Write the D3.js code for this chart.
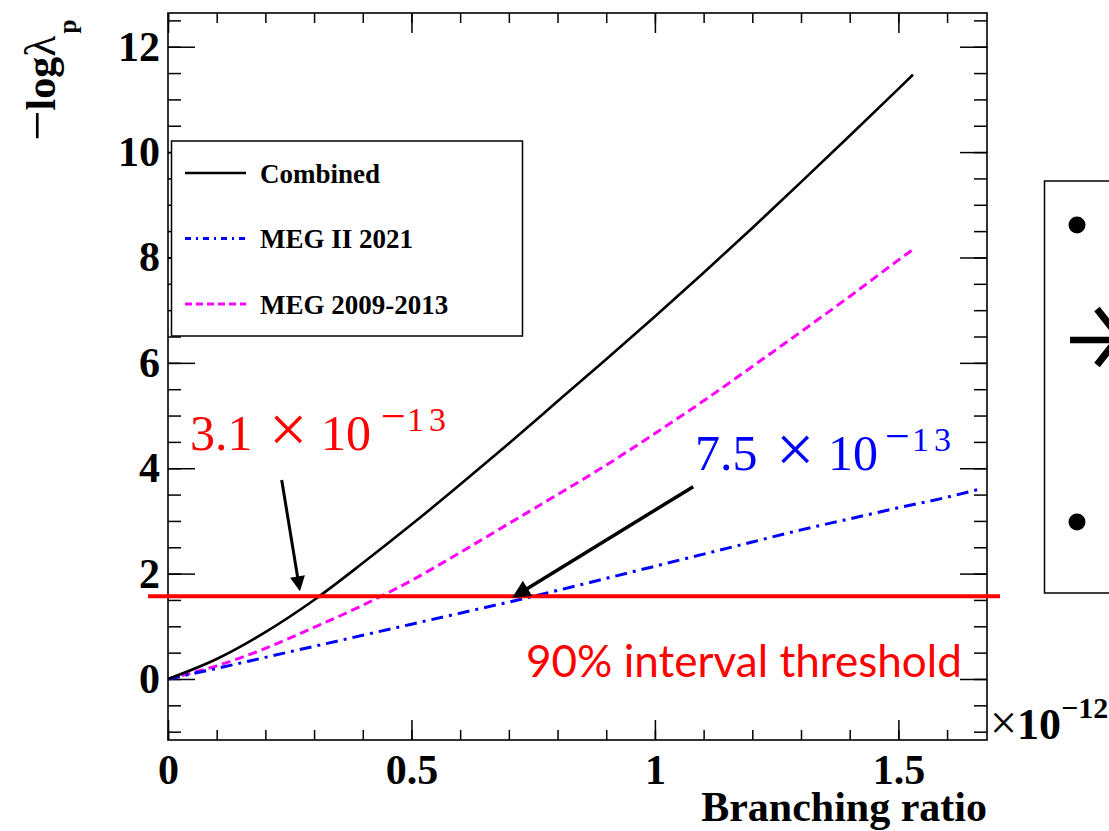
<!DOCTYPE html>
<html>
<head>
<meta charset="utf-8">
<script src="https://cdn.jsdelivr.net/npm/d3@7"></script>
<style>
  body { margin: 0; background: #fff; }
  svg { display: block; }
  .serif { font-family: "Liberation Serif", "Times New Roman", serif; }
  .axis text { font-family: "Liberation Serif", "Times New Roman", serif; font-weight: bold; font-size: 42px; fill: #000; }
  .axis line { stroke: #000; stroke-width: 1.5; }
  .axis path { display: none; }
</style>
</head>
<body>
<svg id="chart" width="1109" height="831"></svg>
<script>
// Branching ratio (in units of 1e-12) and -log(lambda_p) for each dataset
const brCombined  = [0, 0.1, 0.2, 0.3, 0.4, 0.5, 0.6, 0.7, 0.8, 0.9, 1.0, 1.1, 1.2, 1.3, 1.4, 1.5, 1.53];
const nllCombined = [0, 0.38, 0.89, 1.50, 2.20, 2.93, 3.69, 4.47, 5.27, 6.07, 6.88, 7.71, 8.56, 9.43, 10.31, 11.20, 11.47];

const brMEGII  = [0, 0.1, 0.2, 0.3, 0.4, 0.5, 0.6, 0.7, 0.8, 0.9, 1.0, 1.1, 1.2, 1.3, 1.4, 1.5, 1.6, 1.67];
const nllMEGII = [0, 0.20, 0.41, 0.62, 0.83, 1.04, 1.25, 1.46, 1.68, 1.91, 2.14, 2.37, 2.60, 2.83, 3.04, 3.25, 3.45, 3.61];

const brMEG  = [0, 0.1, 0.2, 0.3, 0.4, 0.5, 0.6, 0.7, 0.8, 0.9, 1.0, 1.1, 1.2, 1.3, 1.4, 1.5, 1.53];
const nllMEG = [0, 0.25, 0.58, 0.98, 1.40, 1.87, 2.40, 2.95, 3.50, 4.06, 4.66, 5.28, 5.93, 6.59, 7.26, 7.95, 8.15];

const seriesNames = ["Combined", "MEG II 2021", "MEG 2009-2013"];
const threshold = 1.57;                 // 90% interval threshold on -log(lambda_p)
const limitCombined = 0.31;             // upper limits, in 1e-12 units
const limitMEGII = 0.75;
const xMajorTicks = [0, 0.5, 1, 1.5];
const xTickLabels = ["0", "0.5", "1", "1.5"];
const yMajorTicks = [0, 2, 4, 6, 8, 10, 12];
const yTickLabels = ["0", "2", "4", "6", "8", "10", "12"];

const svg = d3.select("#chart");

const x = d3.scaleLinear().domain([0, 1.682]).range([168, 987]);
const y = d3.scaleLinear().domain([-1.158, 12.64]).range([740, 13]);

const xMinor = d3.range(0, 1.68, 0.1).map(v => +v.toFixed(2));
const yMinor = d3.range(-1, 12.6, 0.5);

// ---- axes (ticks drawn inward on all four sides) ----
svg.append("g").attr("class", "axis")
  .attr("transform", `translate(0,${y.range()[0]})`)
  .call(d3.axisBottom(x).tickValues(xMinor).tickSize(-10).tickFormat(""));
svg.append("g").attr("class", "axis")
  .attr("transform", `translate(0,${y.range()[0]})`)
  .call(d3.axisBottom(x).tickValues(xMajorTicks).tickSize(-20).tickPadding(14)
    .tickFormat((d, i) => xTickLabels[i]));
svg.append("g").attr("class", "axis")
  .attr("transform", `translate(0,${y.range()[1]})`)
  .call(d3.axisTop(x).tickValues(xMinor).tickSize(-10).tickFormat(""));
svg.append("g").attr("class", "axis")
  .attr("transform", `translate(0,${y.range()[1]})`)
  .call(d3.axisTop(x).tickValues(xMajorTicks).tickSize(-20).tickFormat(""));

svg.append("g").attr("class", "axis")
  .attr("transform", `translate(${x.range()[0]},0)`)
  .call(d3.axisLeft(y).tickValues(yMinor).tickSize(-13).tickFormat(""));
svg.append("g").attr("class", "axis")
  .attr("transform", `translate(${x.range()[0]},0)`)
  .call(d3.axisLeft(y).tickValues(yMajorTicks).tickSize(-27).tickPadding(8)
    .tickFormat((d, i) => yTickLabels[i]));
svg.append("g").attr("class", "axis")
  .attr("transform", `translate(${x.range()[1]},0)`)
  .call(d3.axisRight(y).tickValues(yMinor).tickSize(-13).tickFormat(""));
svg.append("g").attr("class", "axis")
  .attr("transform", `translate(${x.range()[1]},0)`)
  .call(d3.axisRight(y).tickValues(yMajorTicks).tickSize(-27).tickFormat(""));

// frame
svg.append("rect")
  .attr("x", x.range()[0]).attr("y", y.range()[1])
  .attr("width", x.range()[1] - x.range()[0])
  .attr("height", y.range()[0] - y.range()[1])
  .attr("fill", "none").attr("stroke", "#000").attr("stroke-width", 1.6);

// axis titles
svg.append("text").attr("class", "serif")
  .attr("x", x.range()[1]).attr("y", 821)
  .attr("text-anchor", "end")
  .style("font-weight", "bold").style("font-size", "42px")
  .text("Branching ratio");

const expo = svg.append("text").attr("class", "serif")
  .attr("x", 990).attr("y", 739)
  .style("font-weight", "bold").style("font-size", "44px");
expo.append("tspan").style("font-weight", "normal").style("font-size", "48px").text("×");
expo.append("tspan").text("10");
expo.append("tspan").attr("dy", -21).style("font-size", "30px").text("−12");

const yTitle = svg.append("text").attr("class", "serif")
  .attr("transform", "translate(55,141) rotate(-90)")
  .style("font-weight", "bold").style("font-size", "42px");
yTitle.append("tspan").style("font-weight", "normal").style("font-size", "54px").text("−");
yTitle.append("tspan").text("log");
yTitle.append("tspan").style("font-weight", "normal").style("font-size", "44px").text("λ");
yTitle.append("tspan").attr("dy", 21).attr("dx", 2).style("font-size", "25px").text("p");

// ---- curves ----
const styles = [
  { color: "#000000", width: 2.6, dash: null, legendDash: null },
  { color: "#0000ff", width: 3, dash: "12,6,3,6", legendDash: "6,5,2,5" },
  { color: "#ff00ff", width: 3, dash: "9,5", legendDash: "7,4" }
];
const curveData = [
  d3.zip(brCombined, nllCombined),
  d3.zip(brMEGII, nllMEGII),
  d3.zip(brMEG, nllMEG)
];
const line = d3.line().x(d => x(d[0])).y(d => y(d[1])).curve(d3.curveMonotoneX);

[2, 1, 0].forEach(i => {
  svg.append("path")
    .datum(curveData[i])
    .attr("d", line)
    .attr("fill", "none")
    .attr("stroke", styles[i].color)
    .attr("stroke-width", styles[i].width)
    .attr("stroke-dasharray", styles[i].dash);
});

// ---- legend ----
const lg = svg.append("g");
lg.append("rect")
  .attr("x", 171.5).attr("y", 141).attr("width", 351).attr("height", 195)
  .attr("fill", "#fff").attr("stroke", "#000").attr("stroke-width", 1.5);
const legendRows = [173, 238.5, 304];
seriesNames.forEach((name, i) => {
  lg.append("line")
    .attr("x1", 185).attr("x2", 246)
    .attr("y1", legendRows[i]).attr("y2", legendRows[i])
    .attr("stroke", styles[i].color)
    .attr("stroke-width", styles[i].width)
    .attr("stroke-dasharray", styles[i].legendDash);
  lg.append("text").attr("class", "serif")
    .attr("x", 260).attr("y", legendRows[i] + 9.5)
    .style("font-weight", "bold").style("font-size", "27px")
    .text(name);
});

// ---- 90% threshold line ----
svg.append("line")
  .attr("x1", x(0) - 20).attr("x2", x.range()[1] + 13)
  .attr("y1", y(threshold)).attr("y2", y(threshold))
  .attr("stroke", "#ff0000").attr("stroke-width", 4);

const thr = svg.append("text")
  .attr("x", 526).attr("y", 677)
  .style("font-family", "Lato, 'Open Sans', sans-serif")
  .style("font-size", "44px").attr("fill", "#ff0000")
  .text("90% interval threshold");
// fit the label to its span
const thrLen = thr.node().getComputedTextLength();
thr.style("font-size", (44 * 436 / thrLen).toFixed(2) + "px");

// ---- limit labels ----
function limitLabel(limit, color, pos) {
  const mant = (limit * 10).toFixed(1);
  const t = svg.append("text").attr("class", "serif")
    .attr("fill", color).style("font-size", "50px");
  t.append("tspan").attr("x", pos.mant).attr("y", pos.base).text(mant);
  t.append("tspan").attr("x", pos.times).attr("y", pos.base + 2)
    .style("font-size", "68px").text("×");
  t.append("tspan").attr("x", pos.ten).attr("y", pos.base).text("10");
  t.append("tspan").attr("x", pos.minus).attr("y", pos.base - 19)
    .style("font-size", "44px").text("−");
  t.append("tspan").attr("x", pos.exp).attr("y", pos.base - 19)
    .style("font-size", "34px").style("letter-spacing", "5px").text("13");
}
limitLabel(limitCombined, "#ff0000",
  { mant: 190, times: 269, ten: 321, minus: 381, exp: 407, base: 450 });
limitLabel(limitMEGII, "#0000ff",
  { mant: 695, times: 776, ten: 828, minus: 885, exp: 912, base: 470 });

// ---- arrows pointing to the crossings ----
function arrow(x0, y0, x1, y1, w, headLen, headHalf) {
  const dx = x1 - x0, dy = y1 - y0, L = Math.hypot(dx, dy);
  const ux = dx / L, uy = dy / L;
  const bx = x1 - ux * headLen, by = y1 - uy * headLen;
  svg.append("line")
    .attr("x1", x0).attr("y1", y0).attr("x2", bx + ux * 2).attr("y2", by + uy * 2)
    .attr("stroke", "#000").attr("stroke-width", w);
  svg.append("path")
    .attr("d", `M${x1},${y1}L${bx - uy * headHalf},${by + ux * headHalf}L${bx + uy * headHalf},${by - ux * headHalf}Z`)
    .attr("fill", "#000");
}
arrow(x(0.2335), y(3.777), x(limitCombined) - 19, y(threshold) - 5, 3, 15, 7.5);
arrow(x(1.0786), y(3.650), x(limitMEGII) - 21, y(threshold) + 1.5, 3.5, 18, 9);

// ---- side panel (partially visible) ----
const side = svg.append("g");
side.append("path")
  .attr("d", "M1120,181H1044.5V593H1120")
  .attr("fill", "none").attr("stroke", "#000").attr("stroke-width", 1.5);
side.append("circle").attr("cx", 1077).attr("cy", 225).attr("r", 8.5).attr("fill", "#000");
side.append("circle").attr("cx", 1077).attr("cy", 522).attr("r", 8.5).attr("fill", "#000");
side.append("line").attr("x1", 1070).attr("x2", 1112).attr("y1", 340).attr("y2", 340)
  .attr("stroke", "#000").attr("stroke-width", 6.5);
side.append("path").attr("d", "M1097,309L1119,337L1097,365")
  .attr("fill", "none").attr("stroke", "#000").attr("stroke-width", 7);
</script>
</body>
</html>
